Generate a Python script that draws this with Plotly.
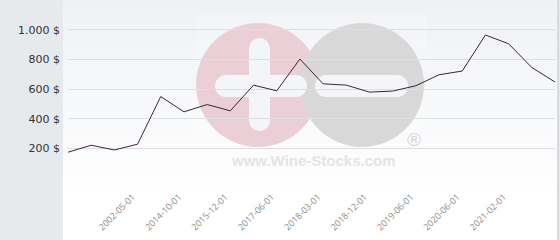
import plotly.graph_objects as go

# ---- data ----
point_index = list(range(22))
prices = [174, 221, 189, 228, 549, 446, 495, 453, 626, 588, 802,
          635, 626, 579, 586, 622, 696, 721, 964, 905, 745, 647]
x_tick_positions = [3, 5, 7, 9, 11, 13, 15, 17, 19]
x_tick_labels = ["2002-05-01", "2014-10-01", "2015-12-01", "2017-06-01",
                 "2018-03-01", "2018-12-01", "2019-06-01", "2020-06-01",
                 "2021-02-01"]
y_tick_values = [0, 200, 400, 600, 800, 1000]
y_tick_labels = ["", "200 $", "400 $", "600 $", "800 $", "1.000 $"]

# ---- layout geometry (pixels) ----
W, H = 560, 240
ML, MR, MT, MB = 68, 5, 0, 62
PW, PH = W - ML - MR, H - MT - MB


def px(x):
    return (x - ML) / PW


def py(y):
    return (H - MB - y) / PH


shapes = []
# gradient plot background (bands)
n = 24
for i in range(n):
    y0, y1 = i * H / n, (i + 1) * H / n
    t = min(1.0, (i + 0.5) * (H / n) / 200.0)
    r = round(239 + (255 - 239) * t)
    g = round(241 + (255 - 241) * t)
    b = round(245 + (255 - 245) * t)
    shapes.append(dict(type="rect", xref="paper", yref="paper",
                       x0=px(63), x1=px(557.5), y0=py(y1), y1=py(y0),
                       fillcolor=f"rgb({r},{g},{b})", line=dict(width=0),
                       layer="below"))
# right border
shapes.append(dict(type="line", xref="paper", yref="paper",
                   x0=px(558), x1=px(558), y0=py(240), y1=py(0),
                   line=dict(color="#c4c7ca", width=1), layer="below"))

# watermark logo
shapes.append(dict(type="rect", xref="paper", yref="paper",
                   x0=px(197), x1=px(426), y0=py(172), y1=py(15),
                   fillcolor="rgba(255,255,255,0.18)", line=dict(width=0),
                   layer="below"))


def circle(cx, cy, r, color):
    return dict(type="circle", xref="paper", yref="paper",
                x0=px(cx - r), x1=px(cx + r), y0=py(cy + r), y1=py(cy - r),
                fillcolor=color, line=dict(width=0), layer="below")


def stadium(x0, y0, x1, y1, color):
    out = []
    if (x1 - x0) >= (y1 - y0):
        rr = (y1 - y0) / 2
        out.append(dict(type="rect", xref="paper", yref="paper",
                        x0=px(x0 + rr), x1=px(x1 - rr), y0=py(y1), y1=py(y0),
                        fillcolor=color, line=dict(width=0), layer="below"))
        out.append(circle(x0 + rr, (y0 + y1) / 2, rr, color))
        out.append(circle(x1 - rr, (y0 + y1) / 2, rr, color))
    else:
        rr = (x1 - x0) / 2
        out.append(dict(type="rect", xref="paper", yref="paper",
                        x0=px(x0), x1=px(x1), y0=py(y1 - rr), y1=py(y0 + rr),
                        fillcolor=color, line=dict(width=0), layer="below"))
        out.append(circle((x0 + x1) / 2, y0 + rr, rr, color))
        out.append(circle((x0 + x1) / 2, y1 - rr, rr, color))
    return out


shapes.append(circle(258, 85, 62, "#eacfd6"))
shapes.append(circle(362, 85, 62, "#d8d8d9"))
bar = "#f4f5f8"
shapes += stadium(249, 38, 270, 131, bar)
shapes += stadium(215, 75, 307, 97, bar)
shapes += stadium(315, 75, 408, 97, bar)

annotations = [
    dict(text="<b>www.Wine-Stocks.com</b>", xref="paper", yref="paper",
         x=px(313), y=py(160.5), xanchor="center", yanchor="middle",
         showarrow=False,
         font=dict(family="Liberation Sans", size=15, color="#e4e4e6")),
    dict(text="®", xref="paper", yref="paper",
         x=px(414), y=py(139), xanchor="center", yanchor="middle",
         showarrow=False,
         font=dict(family="Liberation Sans", size=19, color="#d5d5d7")),
]

fig = go.Figure()
fig.add_trace(go.Scatter(x=point_index, y=prices, mode="lines",
                         line=dict(color="#3b2633", width=1),
                         hoverinfo="skip", showlegend=False))

fig.update_layout(
    width=W, height=H, autosize=False,
    margin=dict(l=ML, r=MR, t=MT, b=MB, pad=0),
    paper_bgcolor="#e6eaed",
    plot_bgcolor="rgba(0,0,0,0)",
    shapes=shapes,
    annotations=annotations,
    showlegend=False,
    xaxis=dict(range=[0, 21], tickmode="array", tickvals=x_tick_positions,
               ticktext=x_tick_labels, tickangle=-45, showgrid=False,
               zeroline=False, showline=False, ticks="", automargin=False,
               ticklabelstandoff=11, ticklabelshift=-5,
               tickfont=dict(family="Open Sans", size=9, color="#8c8c8c")),
    yaxis=dict(range=[0, 1200], tickmode="array", tickvals=y_tick_values,
               ticktext=y_tick_labels, showgrid=True, gridcolor="#dfdfe1",
               gridwidth=1, zeroline=False, showline=False, ticks="",
               ticklabelstandoff=7, automargin=False,
               tickfont=dict(family="DejaVu Sans", size=11, color="#333333")),
)

fig.write_html("out.html")
